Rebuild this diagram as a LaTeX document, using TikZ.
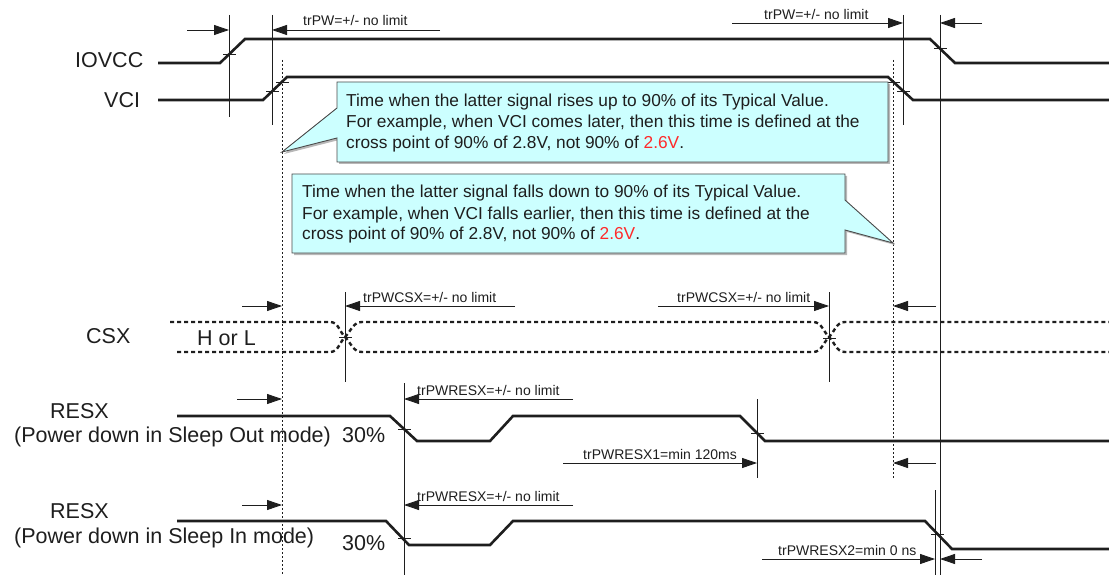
\documentclass[tikz,border=0pt]{standalone}
\usepackage{fontspec}
\setmainfont{Liberation Sans}
\usetikzlibrary{arrows.meta}
\definecolor{calloutfill}{HTML}{CCFFFF}
\definecolor{calloutedge}{HTML}{4A4A4A}
\definecolor{valred}{HTML}{FF2A2A}
\definecolor{ink}{HTML}{1E1E1E}
\tikzset{
  wave/.style={line width=2.6pt, line join=miter, ink},
  dotwave/.style={line width=2.4pt, dash pattern=on 4pt off 3pt, ink},
  guide/.style={line width=0.9pt, ink},
  dotguide/.style={line width=0.8pt, dash pattern=on 2pt off 2pt, ink},
  tickmark/.style={line width=0.9pt, ink},
  meas/.style={line width=0.9pt, ink, -{Triangle[length=15pt,width=10pt]}},
  siglabel/.style={font=\fontsize{21.5}{24}\selectfont, inner sep=0pt, anchor=base west, text=ink},
  smalllabel/.style={font=\fontsize{14}{16}\selectfont, inner sep=0pt, anchor=base west, text=ink},
  calltext/.style={font=\fontsize{17.3}{21}\selectfont, inner sep=0pt, anchor=base west, text=ink},
  callout/.style={fill=calloutfill, draw=calloutedge, line width=0.9pt, line join=miter},
  calloutshadow/.style={fill=black!28, draw=none}
}
\begin{document}
\begin{tikzpicture}[x=1pt,y=-1pt]
\useasboundingbox (0,0) rectangle (1109,575);

% ---------- reference guides ----------
\coordinate (gA) at (229,15);  \coordinate (gAb) at (229,117);
\coordinate (gB) at (272,15);  \coordinate (gBb) at (272,125);
\coordinate (gC) at (903,15);  \coordinate (gCb) at (903,125);
\coordinate (gD) at (940,15);  \coordinate (gDb) at (940,575);
\draw[guide] (gA) -- (gAb);
\draw[guide] (gB) -- (gBb);
\draw[guide] (gC) -- (gCb);
\draw[guide] (gD) -- (gDb);
\draw[guide] (345,292) -- (345,382);
\draw[guide] (829,292) -- (829,382);
\draw[guide] (404,383) -- (404,575);
\draw[guide] (757,399) -- (757,478);
\draw[guide] (935,490) -- (935,575);
\draw[dotguide] (282,60) -- (282,575);
\draw[dotguide] (893,60) -- (893,478);

% ---------- signal names ----------
\node[siglabel] (lIOVCC) at (75,68) {IOVCC};
\node[siglabel] (lVCI) at (104,108) {VCI};
\node[siglabel] (lCSX) at (86,343) {CSX};
\node[siglabel] (lHL) at (197,345) {H or L};
\node[siglabel] (lRESXa) at (50,418) {RESX};
\node[siglabel] (lRESXad) at (14,442) {(Power down in Sleep Out mode)};
\node[siglabel] (lPa) at (342,442) {30\%};
\node[siglabel] (lRESXb) at (50,518) {RESX};
\node[siglabel] (lRESXbd) at (14,543) {(Power down in Sleep In mode)};
\node[siglabel] (lPb) at (342,550) {30\%};

% ---------- waveforms ----------
\draw[wave] (158,63) -- (220,63) -- (245,39) -- (930,39) -- (955,63) -- (1109,63);
\draw[wave] (158,100) -- (263,100) -- (287,77) -- (888,77) -- (913,100) -- (1109,100);
\draw[dotwave] (170,322) -- (330,322) to[out=0,in=135] (345,337) to[out=-45,in=180] (362,352)
  -- (813,352) to[out=0,in=-135] (829,337) to[out=45,in=180] (845,322) -- (1109,322);
\draw[dotwave] (177,352) -- (330,352) to[out=0,in=-135] (345,337) to[out=45,in=180] (362,322)
  -- (813,322) to[out=0,in=135] (829,337) to[out=-45,in=180] (845,352) -- (1109,352);
\draw[wave] (177,416) -- (390,416) -- (417,441) -- (490,441) -- (513,416) -- (740,416) -- (765,441) -- (1109,441);
\draw[wave] (177,521) -- (386,521) -- (409,545) -- (490,545) -- (513,521) -- (925,521) -- (952,549) -- (1109,549);

% ---------- threshold ticks ----------
\foreach \tx/\ty in {229/54, 272/91, 282/82, 893/82, 903/91, 940/48,
                     345/337, 829/338, 404/429, 757/433, 404/538, 937/534}
  \draw[tickmark] (\tx-6,\ty) -- (\tx+7,\ty);

% ---------- callouts ----------
\draw[calloutshadow] (339,84) -- (890,84) -- (890,164) -- (339,164) -- (339,140) -- (284,154) -- (339,110) -- cycle;
\draw[callout] (337,82) -- (888,82) -- (888,162) -- (337,162) -- (337,138) -- (282,152) -- (337,108) -- cycle;
\node[calltext] (c1a) at (346,107) {Time when the latter signal rises up to 90\% of its Typical Value.};
\node[calltext] (c1b) at (346,128) {For example, when VCI comes later, then this time is defined at the};
\node[calltext] (c1c) at (346,149) {cross point of 90\% of 2.8V, not 90\% of \textcolor{valred}{2.6V}.};

\draw[calloutshadow] (294,176) -- (847,176) -- (847,202) -- (895,245) -- (847,232) -- (847,255) -- (294,255) -- cycle;
\draw[callout] (292,174) -- (845,174) -- (845,200) -- (893,243) -- (845,230) -- (845,253) -- (292,253) -- cycle;
\node[calltext] (c2a) at (302,197) {Time when the latter signal falls down to 90\% of its Typical Value.};
\node[calltext] (c2b) at (302,219) {For example, when VCI falls earlier, then this time is defined at the};
\node[calltext] (c2c) at (302,240) {cross point of 90\% of 2.8V, not 90\% of \textcolor{valred}{2.6V}.};

% ---------- measurement arrows ----------
\coordinate (m1s) at (187,30);  \coordinate (m1e) at (229,30);
\coordinate (m2s) at (440,30);  \coordinate (m2e) at (272,30);
\draw[meas] (m1s) -- (m1e);
\draw[meas] (m2s) -- (m2e);
\node[smalllabel] (t1) at (303,26) {trPW=+/- no limit};

\coordinate (m3s) at (732,23);  \coordinate (m3e) at (903,23);
\coordinate (m4s) at (982,23);  \coordinate (m4e) at (940,23);
\draw[meas] (m3s) -- (m3e);
\draw[meas] (m4s) -- (m4e);
\node[smalllabel] (t2) at (764,20) {trPW=+/- no limit};

\coordinate (m5s) at (242,306); \coordinate (m5e) at (282,306);
\coordinate (m6s) at (515,306); \coordinate (m6e) at (345,306);
\draw[meas] (m5s) -- (m5e);
\draw[meas] (m6s) -- (m6e);
\node[smalllabel] (t3) at (363,302) {trPWCSX=+/- no limit};

\coordinate (m7s) at (658,306); \coordinate (m7e) at (829,306);
\coordinate (m8s) at (936,306); \coordinate (m8e) at (893,306);
\draw[meas] (m7s) -- (m7e);
\draw[meas] (m8s) -- (m8e);
\node[smalllabel] (t4) at (677,302) {trPWCSX=+/- no limit};

\coordinate (m9s) at (237,399);  \coordinate (m9e) at (282,399);
\coordinate (m10s) at (573,399); \coordinate (m10e) at (404,399);
\draw[meas] (m9s) -- (m9e);
\draw[meas] (m10s) -- (m10e);
\node[smalllabel] (t5) at (417,395) {trPWRESX=+/- no limit};

\coordinate (m11s) at (563,463); \coordinate (m11e) at (757,463);
\coordinate (m12s) at (936,463); \coordinate (m12e) at (893,463);
\draw[meas] (m11s) -- (m11e);
\draw[meas] (m12s) -- (m12e);
\node[smalllabel] (t6) at (583,459) {trPWRESX1=min 120ms};

\coordinate (m13s) at (242,505); \coordinate (m13e) at (282,505);
\coordinate (m14s) at (573,505); \coordinate (m14e) at (404,505);
\draw[meas] (m13s) -- (m13e);
\draw[meas] (m14s) -- (m14e);
\node[smalllabel] (t7) at (417,501) {trPWRESX=+/- no limit};

\coordinate (m15s) at (762,559); \coordinate (m15e) at (935,559);
\coordinate (m16s) at (982,559); \coordinate (m16e) at (940,559);
\draw[meas] (m15s) -- (m15e);
\draw[meas] (m16s) -- (m16e);
\node[smalllabel] (t8) at (778,555) {trPWRESX2=min 0 ns};
\end{tikzpicture}
\end{document}
